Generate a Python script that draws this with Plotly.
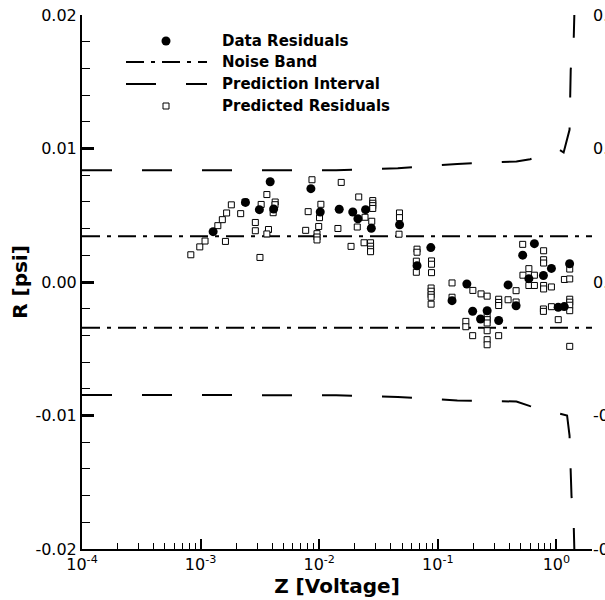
import plotly.graph_objects as go

# ---------------- data ----------------
data_z = [1.275e-3, 2.39e-3, 3.13e-3, 3.86e-3, 4.13e-3, 8.51e-3, 1.02e-2, 1.475e-2, 1.918e-2, 2.12e-2,
          2.46e-2, 2.75e-2, 4.76e-2, 8.73e-2, 6.68e-2, 0.1318, 0.1757, 0.1967, 0.2606, 0.2293,
          0.3259, 0.3913, 0.4570, 0.5195, 0.6521, 0.5858, 0.7768, 0.9074, 1.292, 1.036, 1.164]
data_r = [0.00377, 0.00596, 0.00542, 0.00751, 0.00547, 0.00699, 0.00524, 0.00545, 0.00524, 0.00474,
          0.00542, 0.00403, 0.00429, 0.00258, 0.00122, -0.00140, -0.00015, -0.00219, -0.00215, -0.00277,
          -0.00288, -0.00022, -0.00178, 0.00201, 0.00287, 0.00025, 0.00049, 0.00102, 0.00137, -0.00189, -0.00184]

pred_z = [8.27e-4, 9.84e-4, 1.09e-3, 1.397e-3, 1.525e-3, 1.657e-3, 1.816e-3, 1.62e-3, 2.177e-3, 2.375e-3,
          2.894e-3, 2.894e-3, 3.165e-3, 3.24e-3, 3.62e-3, 3.735e-3, 3.62e-3, 4.254e-3, 4.24e-3, 4.09e-3,
          7.69e-3, 8.07e-3, 8.69e-3, 1.033e-2, 1.006e-2, 9.9e-3, 9.58e-3, 9.58e-3, 9.58e-3,
          1.438e-2, 1.533e-2, 1.855e-2, 2.154e-2, 2.093e-2, 2.434e-2, 2.388e-2, 2.71e-2, 2.71e-2, 2.71e-2, 2.71e-2,
          2.828e-2, 2.828e-2, 2.828e-2, 2.828e-2, 2.773e-2,
          4.75e-2, 4.75e-2, 4.71e-2,
          6.68e-2, 6.68e-2, 6.59e-2, 6.59e-2,
          8.85e-2, 8.85e-2, 8.85e-2, 8.78e-2, 8.78e-2, 8.78e-2, 8.78e-2, 8.78e-2,
          0.1318, 0.1318,
          0.1723, 0.1723,
          0.1975, 0.2315, 0.2606, 0.1967,
          0.2606, 0.2606, 0.2606, 0.2606, 0.2606, 0.2606,
          0.3259, 0.3259, 0.3259, 0.3259,
          0.3913, 0.4570, 0.4570,
          0.5195, 0.5858, 0.522, 0.6521, 0.5858, 0.6521,
          0.780, 0.780, 0.780, 0.780, 0.780, 0.9074,
          1.168, 1.295, 1.295,
          0.7768, 0.7768, 0.9074, 1.036,
          1.295, 1.295, 1.295, 1.295, 1.295]
pred_r = [0.00204, 0.00263, 0.00307, 0.00422, 0.00467, 0.00517, 0.00578, 0.00304, 0.00512, 0.00599,
          0.00446, 0.00384, 0.00184, 0.00581, 0.00655, 0.00393, 0.00360, 0.00599, 0.00579, 0.00519,
          0.00387, 0.00527, 0.00766, 0.00582, 0.00482, 0.00416, 0.00362, 0.00337, 0.00315,
          0.00401, 0.00746, 0.00267, 0.00637, 0.00412, 0.00485, 0.00294, 0.00294, 0.00268, 0.00246, 0.00227,
          0.00610, 0.00590, 0.00572, 0.00551, 0.00455,
          0.00517, 0.00482, 0.00358,
          0.00246, 0.00223, 0.00156, 0.00073,
          0.00158, 0.00133, 0.00070, -0.00045, -0.00069, -0.00095, -0.00114, -0.00166,
          -0.00007, -0.00114,
          -0.00295, -0.00335,
          -0.00063, -0.00089, -0.00106, -0.00402,
          -0.00258, -0.00282, -0.00307, -0.00365, -0.00432, -0.00470,
          -0.00129, -0.00153, -0.00176, -0.00402,
          -0.00133, -0.00065, -0.00150,
          0.00282, 0.00100, 0.00051, 0.00051, -0.00026, -0.00026,
          0.00234, 0.00167, 0.00142, -0.00026, -0.00052, -0.00037,
          0.00019, 0.00023, 0.00097,
          -0.00202, -0.00220, -0.00185, -0.00282,
          -0.00129, -0.00151, -0.00174, -0.00215, -0.00482]

noise_z = [1e-4, 2.0]
noise_upper = [0.00343, 0.00343]
noise_lower = [-0.00343, -0.00343]

pi_upper_z = [1e-4, 1e-2, 0.0139, 0.046, 0.146, 0.46, 0.60, 1.06, 1.15, 1.29, 1.32, 1.40, 1.43]
pi_upper = [0.00838, 0.00838, 0.00838, 0.00852, 0.00884, 0.00903, 0.0092, 0.0099, 0.0097, 0.0114, 0.0159, 0.0183, 0.0215]
pi_lower_z = [1e-4, 1e-2, 0.0139, 0.046, 0.146, 0.46, 0.60, 1.06, 1.23, 1.29, 1.34, 1.40, 1.43]
pi_lower = [-0.00846, -0.00846, -0.00848, -0.00861, -0.00888, -0.00895, -0.0093, -0.00985, -0.0100, -0.0115, -0.0160, -0.0183, -0.0215]

x_tickvals = [1e-4, 1e-3, 1e-2, 1e-1, 1e0]
x_ticktext = ["10<sup>-4</sup>", "10<sup>-3</sup>", "10<sup>-2</sup>", "10<sup>-1</sup>", "10<sup>0</sup>"]
x_minor = [m * d for d in [1e-4, 1e-3, 1e-2, 1e-1, 1e0] for m in range(2, 10)]
y_tickvals = [-0.02, -0.01, 0.0, 0.01, 0.02]
y_ticktext = ["-0.02", "-0.01", "0.00", "0.01", "0.02"]

legend_labels = ["Data Residuals", "Noise Band", "Prediction Interval", "Predicted Residuals"]

FONT = "DejaVu Sans"
NOISE_DASH = "18px,7px,4px,7px"
PI_DASH = "30px,30px"

fig = go.Figure()
for zz, yy in [(noise_z, noise_upper), (noise_z, noise_lower)]:
    fig.add_trace(go.Scatter(x=zz, y=yy, mode="lines", line=dict(color="black", width=2, dash=NOISE_DASH),
                             showlegend=False, hoverinfo="skip"))
fig.add_trace(go.Scatter(x=pi_upper_z, y=pi_upper, mode="lines", line=dict(color="black", width=2, dash=PI_DASH),
                         showlegend=False, hoverinfo="skip"))
fig.add_trace(go.Scatter(x=pi_lower_z, y=pi_lower, mode="lines", line=dict(color="black", width=2, dash=PI_DASH),
                         showlegend=False, hoverinfo="skip"))
fig.add_trace(go.Scatter(x=pred_z, y=pred_r, mode="markers",
                         marker=dict(symbol="square", size=6, color="white", line=dict(color="black", width=1)),
                         showlegend=False))
fig.add_trace(go.Scatter(x=data_z, y=data_r, mode="markers",
                         marker=dict(symbol="circle", size=9, color="black", line=dict(width=0)),
                         showlegend=False))
fig.add_trace(go.Scatter(x=[1e-4], y=[0], mode="markers", marker=dict(opacity=0), yaxis="y2",
                         showlegend=False, hoverinfo="skip"))

# --------- legend (drawn manually) ---------
L, R, T, B = 82, 592, 15, 549
def px(xp):
    return (xp - L) / (R - L)
def py(yp):
    return (B - yp) / (B - T)

rows = [41, 62, 84, 106]
shapes = [
    dict(type="circle", xref="paper", yref="paper", x0=px(161.5), x1=px(170.5), y0=py(45.5), y1=py(36.5),
         fillcolor="black", line=dict(width=0)),
    dict(type="line", xref="paper", yref="paper", x0=px(126), x1=px(207), y0=py(rows[1]), y1=py(rows[1]),
         line=dict(color="black", width=2, dash=NOISE_DASH)),
    dict(type="line", xref="paper", yref="paper", x0=px(126), x1=px(207), y0=py(rows[2]), y1=py(rows[2]),
         line=dict(color="black", width=2, dash=PI_DASH)),
    dict(type="rect", xref="paper", yref="paper", x0=px(163), x1=px(169), y0=py(109), y1=py(103),
         fillcolor="white", line=dict(color="black", width=1)),
]
annotations = [
    dict(text="<b>%s</b>" % t, xref="paper", yref="paper", x=px(220), y=py(r), xanchor="left", yanchor="middle",
         showarrow=False, font=dict(family=FONT, size=15, color="black"))
    for t, r in zip(legend_labels, rows)
]

fig.update_layout(
    width=605, height=600,
    margin=dict(l=L, r=605 - R, t=T, b=600 - B),
    paper_bgcolor="white", plot_bgcolor="white",
    font=dict(family=FONT, size=16, color="black"),
    showlegend=False,
    shapes=shapes, annotations=annotations,
    xaxis=dict(type="log", range=[-4, 0.3], tickmode="array", tickvals=x_tickvals, ticktext=x_ticktext,
               ticks="inside", ticklen=10, tickwidth=2, tickcolor="black",
               showline=True, linecolor="black", linewidth=2, mirror=False,
               showgrid=False, zeroline=False, automargin=False,
               minor=dict(tickvals=x_minor, ticks="inside", ticklen=6, tickwidth=1, tickcolor="black", showgrid=False),
               tickfont=dict(family=FONT, size=16),
               title=dict(text="<b>Z [Voltage]</b>", font=dict(family=FONT, size=20), standoff=3)),
    yaxis=dict(range=[-0.02, 0.02], tickmode="array", tickvals=y_tickvals, ticktext=y_ticktext,
               ticks="inside", ticklen=12, tickwidth=3, tickcolor="black",
               showline=True, linecolor="black", linewidth=2, mirror=False,
               showgrid=False, zeroline=False, automargin=False,
               minor=dict(dtick=0.002, ticks="inside", ticklen=8, tickwidth=1, tickcolor="black", showgrid=False),
               tickfont=dict(family=FONT, size=16),
               title=dict(text="<b>R [psi]</b>", font=dict(family=FONT, size=20), standoff=2)),
    yaxis2=dict(range=[-0.02, 0.02], overlaying="y", side="right", tickmode="array", tickvals=y_tickvals,
                ticktext=y_ticktext, ticks="", showline=False, showgrid=False, zeroline=False, automargin=False,
                tickfont=dict(family=FONT, size=16)),
)

fig.write_html("out.html")
